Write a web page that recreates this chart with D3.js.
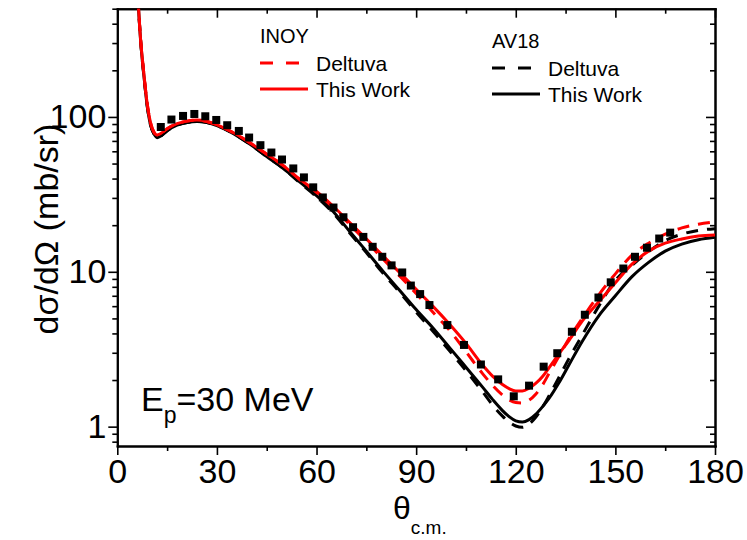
<!DOCTYPE html>
<html>
<head>
<meta charset="utf-8">
<script src="https://cdn.jsdelivr.net/npm/d3@7"></script>
<style>
  body { margin: 0; background: #fff; }
  text { font-family: "Liberation Sans", Arial, sans-serif; fill: #000; }
  .axis path, .axis line { stroke: #000; }
  .axis path { stroke-width: 2px; }
  .axis line { stroke-width: 1.6px; }
</style>
</head>
<body>
<div id="graph"></div>
<script>
// measured points (squares)
var dataTheta = [13.1,16.3,19.8,23.2,26.5,29.8,33.1,36.6,39.7,43.1,46.4,49.6,53.0,56.2,59.0,61.9,65.1,68.1,71.0,74.1,76.9,79.8,82.6,85.8,88.4,91.2,94.0,99.4,104.4,109.5,114.7,119.4,124.0,128.4,132.5,136.9,140.8,144.9,148.6,152.4,155.9,159.5,163.2,166.5];
var dataXs = [86.1,96.2,101.5,104.5,101,95.6,88.4,81.2,73.6,65.7,58.9,53.1,46.5,40.7,35.1,30.2,26.0,22.5,19.4,16.8,14.5,12.5,11.0,9.9,8.15,7.18,6.1,4.53,3.37,2.52,2.02,1.57,1.84,2.44,2.98,4.10,5.28,6.82,8.55,10.5,12.5,14.3,16.4,17.9];

// calculated curves
var curveTheta = [5,6,7,8,9,10,11,12,13,15,18,21,24,27,30,35,40,45,50,55,60,65,70,75,80,85,90,95,100,105,110,113,116,118,120,122,124,126,128,130,133,136,140,145,150,155,160,165,170,175,180];
var inoyThisWork = [1500,700,320,190,122,92,80,76.5,78,84,90.5,94,95.5,93.5,89,79,68,57.5,48.5,39.5,33,26.5,20.8,16.3,12.7,9.9,7.7,6.0,4.6,3.45,2.5,2.12,1.87,1.76,1.7,1.7,1.77,1.9,2.1,2.4,2.95,3.6,4.8,6.4,8.5,11.2,13.6,15.3,16.3,17.0,17.3];
var inoyDeltuva = [1500,700,320,190,122,92,80,76.5,78,84,90.5,94,95.5,93.5,89,79,68,57.5,48.5,39.3,32.6,26,20.2,15.7,12.1,9.4,7.25,5.5,4.2,3.05,2.2,1.85,1.6,1.49,1.43,1.42,1.48,1.62,1.85,2.2,2.85,3.7,5.0,7.1,9.7,12.8,15.3,17.5,19.2,20.3,21.0];
var av18ThisWork = [1500,690,315,185,118,89,78,73.5,75,81.5,88.5,92,93.5,92,88,78,66.5,55.5,46.5,38,31,24.5,18.2,13.6,10.1,7.6,5.7,4.35,3.25,2.42,1.8,1.5,1.27,1.16,1.09,1.07,1.11,1.2,1.34,1.52,1.92,2.5,3.55,5.2,7.0,9.3,11.5,13.6,15.1,16.1,16.7];
var av18Deltuva = [1500,690,315,185,118,89,78,73.5,75,81.5,88.5,92,93.5,92,88,78,66.5,55.5,46.5,37.5,30.5,24,17.8,13.3,9.8,7.4,5.5,4.15,3.1,2.3,1.68,1.38,1.17,1.07,1.01,0.99,1.04,1.15,1.33,1.58,2.08,2.75,3.9,6.0,8.8,11.0,13.5,15.9,17.5,18.5,19.0];

var xTicks = [0,30,60,90,120,150,180];
var xMinor = [15,45,75,105,135,165];
var yTicks = [1,10,100];
var yMinor = [0.8,0.9,2,3,4,5,6,7,8,9,20,30,40,50,60,70,80,90,200,300,400,500];

var margin = {top: 8.7, right: 32, bottom: 94, left: 117.3},
    width = 747 - margin.left - margin.right,
    height = 540 - margin.top - margin.bottom;

var x = d3.scaleLinear().domain([0, 180]).range([0, width]);
var y = d3.scaleLog().domain([0.75, 500]).range([height, 0]);

var svg = d3.select("#graph").append("svg")
    .attr("width", 747)
    .attr("height", 540)
  .append("g")
    .attr("transform", "translate(" + margin.left + "," + margin.top + ")");

svg.append("clipPath").attr("id", "clip")
  .append("rect").attr("width", width).attr("height", height);

// axes: bottom/left ticks out, top/right mirrored ticks in
svg.append("g").attr("class", "axis")
    .attr("transform", "translate(0," + height + ")")
    .call(d3.axisBottom(x).tickValues(xMinor).tickSize(5).tickSizeOuter(0).tickFormat(""));
svg.append("g").attr("class", "axis")
    .attr("transform", "translate(0," + height + ")")
    .call(d3.axisBottom(x).tickValues(xTicks).tickSize(9).tickSizeOuter(0).tickPadding(4).tickFormat(d3.format("d")))
    .selectAll("text").style("font-size", "34px");
svg.append("g").attr("class", "axis")
    .call(d3.axisTop(x).tickValues(xMinor).tickSize(-5).tickSizeOuter(0).tickFormat(""));
svg.append("g").attr("class", "axis")
    .call(d3.axisTop(x).tickValues(xTicks).tickSize(-9).tickSizeOuter(0).tickFormat(""));

svg.append("g").attr("class", "axis")
    .call(d3.axisLeft(y).tickValues(yMinor).tickSize(5).tickSizeOuter(0).tickFormat(""));
svg.append("g").attr("class", "axis")
    .call(d3.axisLeft(y).tickValues(yTicks).tickSize(9).tickSizeOuter(0).tickPadding(2).tickFormat(d3.format("d")))
    .selectAll("text").style("font-size", "34px");
svg.append("g").attr("class", "axis")
    .attr("transform", "translate(" + width + ",0)")
    .call(d3.axisRight(y).tickValues(yMinor).tickSize(-5).tickSizeOuter(0).tickFormat(""));
svg.append("g").attr("class", "axis")
    .attr("transform", "translate(" + width + ",0)")
    .call(d3.axisRight(y).tickValues(yTicks).tickSize(-9).tickSizeOuter(0).tickFormat(""));

svg.selectAll(".axis .domain").attr("stroke-linecap", "square");

// curves
var series = [
  {vals: av18ThisWork, color: "#000", dash: null},
  {vals: av18Deltuva, color: "#000", dash: "12,9"},
  {vals: inoyDeltuva, color: "#ff0000", dash: "12,9"},
  {vals: inoyThisWork, color: "#ff0000", dash: null}
];
var line = d3.line()
    .x(function(d) { return x(d[0]); })
    .y(function(d) { return y(d[1]); })
    .curve(d3.curveMonotoneX);

var plot = svg.append("g").attr("clip-path", "url(#clip)");
series.forEach(function(s) {
  plot.append("path")
      .datum(curveTheta.map(function(t, i) { return [t, s.vals[i]]; }))
      .attr("d", line)
      .attr("fill", "none")
      .attr("stroke", s.color)
      .attr("stroke-width", 3)
      .attr("stroke-dasharray", s.dash);
});

plot.selectAll(".dot")
    .data(dataTheta.map(function(t, i) { return [t, dataXs[i]]; }))
  .enter().append("rect")
    .attr("class", "dot")
    .attr("x", function(d) { return x(d[0]) - 4; })
    .attr("y", function(d) { return y(d[1]) - 4; })
    .attr("width", 8)
    .attr("height", 8)
    .style("fill", "#000");

// legend (page coordinates)
var leg = d3.select("svg").append("g");
var legendItems = [
  {title: "INOY", color: "#ff0000", x: 260, ty: 43},
  {title: "AV18", color: "#000", x: 492, ty: 48}
];
legendItems.forEach(function(l) {
  leg.append("text").attr("x", l.x).attr("y", l.ty).style("font-size", "20px").text(l.title);
  leg.append("line").attr("x1", l.x).attr("x2", l.x + 48)
      .attr("y1", l.ty + 20).attr("y2", l.ty + 20)
      .attr("stroke", l.color).attr("stroke-width", 3).attr("stroke-dasharray", "13,13");
  leg.append("text").attr("x", l.x + 56).attr("y", l.ty + 28).style("font-size", "21px").text("Deltuva");
  leg.append("line").attr("x1", l.x).attr("x2", l.x + 48)
      .attr("y1", l.ty + 46).attr("y2", l.ty + 46)
      .attr("stroke", l.color).attr("stroke-width", 3);
  leg.append("text").attr("x", l.x + 56).attr("y", l.ty + 54).style("font-size", "21px").text("This Work");
});

// annotations and axis titles
var ep = d3.select("svg").append("text").attr("x", 141).attr("y", 411).style("font-size", "34px");
ep.append("tspan").text("E");
ep.append("tspan").attr("dy", 12).style("font-size", "23px").text("p");
ep.append("tspan").attr("dy", -12).text("=30 MeV");

d3.select("svg").append("text")
    .attr("transform", "translate(58,229) rotate(-90)")
    .style("text-anchor", "middle")
    .style("font-size", "34px")
    .text("dσ/dΩ (mb/sr)");

var xl = d3.select("svg").append("text").attr("x", 393).attr("y", 519).style("font-size", "32px");
xl.append("tspan").text("θ");
xl.append("tspan").attr("dy", 15).style("font-size", "19px").text("c.m.");
</script>
</body>
</html>
